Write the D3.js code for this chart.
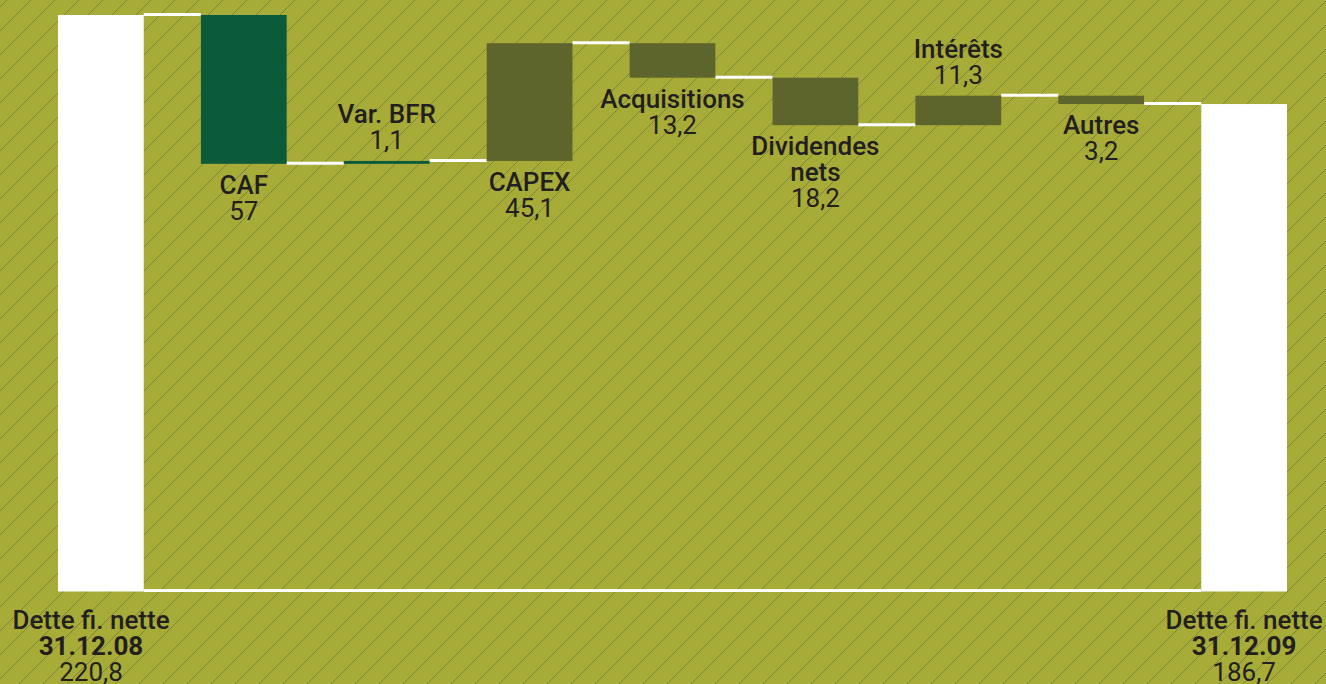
<!DOCTYPE html>
<html>
<head>
<meta charset="utf-8">
<script src="https://cdn.jsdelivr.net/npm/d3@7"></script>
<style>
  html, body { margin: 0; padding: 0; background: #a7ac39; overflow: hidden; }
  svg { display: block; }
  text { font-family: Roboto, "Noto Sans", sans-serif; fill: #231f20; }
</style>
</head>
<body>
<svg id="chart" width="1326" height="684"></svg>
<script>
// ---- data ----
const categories = ["Dette fi. nette 31.12.08", "CAF", "Var. BFR", "CAPEX", "Acquisitions", "Dividendes nets", "Intérêts", "Autres", "Dette fi. nette 31.12.09"];
const labelLines = [["Dette fi. nette", "31.12.08"], ["CAF"], ["Var. BFR"], ["CAPEX"], ["Acquisitions"], ["Dividendes", "nets"], ["Intérêts"], ["Autres"], ["Dette fi. nette", "31.12.09"]];
const values = [220.8, -57, 1.1, 45.1, -13.2, -18.2, 11.3, -3.2, 186.7];
const valueLabels = ["220,8", "57", "1,1", "45,1", "13,2", "18,2", "11,3", "3,2", "186,7"];
const kinds = ["total", "delta", "delta", "delta", "delta", "delta", "delta", "delta", "total"];
const labelPlacement = ["bottom", "below", "above", "below", "below", "below", "above", "below", "bottom"];
const barGroup = ["total", "cash", "cash", "flow", "flow", "flow", "flow", "flow", "total"];

// ---- styles ----
const colorOf = { total: "#ffffff", cash: "#0b5a3a", flow: "#5d652c" };
const W = 1326, H = 684;
const svg = d3.select("#chart");

// background + hatch
const defs = svg.append("defs");
const pat = defs.append("pattern")
  .attr("id", "hatch").attr("patternUnits", "userSpaceOnUse")
  .attr("width", 24).attr("height", 24).attr("x", 7).attr("y", 0);
pat.append("rect").attr("width", 24).attr("height", 24).attr("fill", "#a7ac39");
pat.append("path").attr("d", "M-6,6 L6,-6 M0,24 L24,0 M18,30 L30,18")
  .attr("stroke", "#7e843c").attr("stroke-width", 1);
svg.append("rect").attr("width", W).attr("height", H).attr("fill", "url(#hatch)");

// ---- compute waterfall ----
let running = 0;
const rows = categories.map((c, i) => {
  let start, end;
  if (kinds[i] === "total") { start = 0; end = values[i]; running = values[i]; }
  else { start = running; end = running + values[i]; running = end; }
  return { cat: c, i, start, end, lo: Math.min(start, end), hi: Math.max(start, end), after: running };
});

const x = d3.scaleBand().domain(categories).range([58, 1287]).paddingInner(0.4).paddingOuter(0);
const y = d3.scaleLinear().domain([0, 220.8]).range([591.5, 15]);

// baseline white line between totals
svg.append("line")
  .attr("x1", x(categories[0]) + x.bandwidth()).attr("x2", x(categories[categories.length - 1]))
  .attr("y1", y(0) - 1).attr("y2", y(0) - 1)
  .attr("stroke", "#fff").attr("stroke-width", 3);

// connectors
for (let k = 0; k < rows.length - 1; k++) {
  const r = rows[k];
  svg.append("line")
    .attr("x1", x(r.cat) + x.bandwidth()).attr("x2", x(rows[k + 1].cat))
    .attr("y1", y(r.after) - 0.5).attr("y2", y(r.after) - 0.5)
    .attr("stroke", "#fff").attr("stroke-width", 3);
}

// bars
svg.selectAll("rect.bar").data(rows).join("rect")
  .attr("class", "bar")
  .attr("x", d => x(d.cat))
  .attr("width", x.bandwidth())
  .attr("y", d => y(d.hi))
  .attr("height", d => Math.max(2.5, y(d.lo) - y(d.hi)))
  .attr("fill", d => colorOf[barGroup[d.i]]);

// labels
const fs = 26, lh = 26;
rows.forEach(d => {
  let cx = x(d.cat) + x.bandwidth() / 2;
  if (d.i === 0) cx = Math.max(cx - 10, 91); // keep left label inside the frame as in the original
  const lines = labelLines[d.i].map((t, j) => ({ t, w: (kinds[d.i] === "total" && j === 1) ? 700 : 500 }));
  lines.push({ t: valueLabels[d.i], w: 400 });
  let firstBaseline;
  const place = labelPlacement[d.i];
  if (place === "below") firstBaseline = y(d.lo) + 30;
  else if (place === "above") firstBaseline = y(d.hi) - 12 - (lines.length - 1) * lh;
  else firstBaseline = y(0) + 37;
  const t = svg.append("text").attr("text-anchor", "middle").attr("font-size", fs);
  lines.forEach((ln, j) => {
    t.append("tspan").attr("x", cx).attr("y", firstBaseline + j * lh)
      .attr("font-weight", ln.w).text(ln.t);
  });
});
</script>
</body>
</html>
